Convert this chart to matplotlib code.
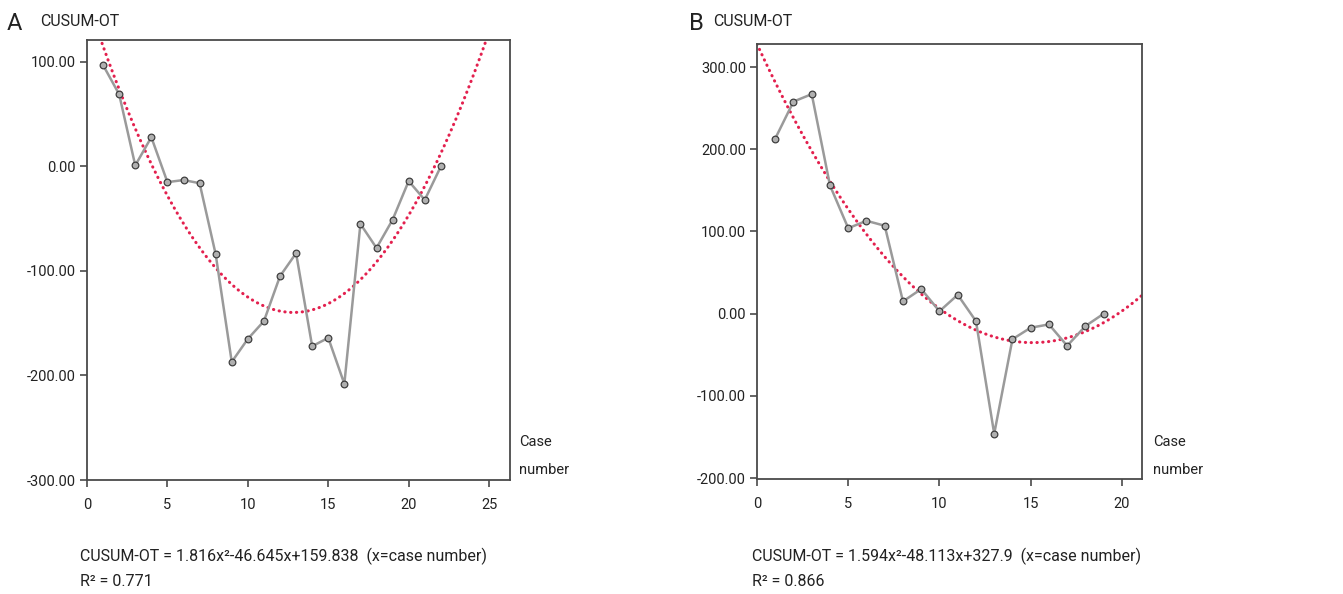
import numpy as np
import matplotlib
matplotlib.use("Agg")
import matplotlib.pyplot as plt

plt.rcParams['font.family'] = ['Roboto', 'DejaVu Sans']

# Panel A: CUSUM of operative time, 22 cases
cases_a = list(range(1, 23))
cusum_a = [97, 69, 1, 28, -15, -13, -16, -84, -187, -165, -148, -105, -83,
           -172, -164, -208, -55, -78, -51, -14, -32, 0]
coef_a = [1.816, -46.645, 159.838]      # quadratic fit a*x^2 + b*x + c
r2_a = 0.771

# Panel B: CUSUM of operative time, 19 cases
cases_b = list(range(1, 20))
cusum_b = [213, 258, 267, 156, 104, 113, 107, 15, 30, 3, 23, -9, -146,
           -31, -17, -13, -39, -15, 0]
coef_b = [1.594, -48.113, 327.9]
r2_b = 0.866

xticks_a = [0, 5, 10, 15, 20, 25]
yticks_a = [-300, -200, -100, 0, 100]
xticks_b = [0, 5, 10, 15, 20]
yticks_b = [-200, -100, 0, 100, 200, 300]

W, H = 1343, 594
fig = plt.figure(figsize=(W / 100, H / 100), dpi=100)

line_col = '#9a9a9a'
fit_col = '#e3204e'
spine_col = '#4a4a4a'
fs_tick = 10.5
fs_text = 11.5


def panel(rect, x, y, coef, xlim, ylim, xt, yt):
    ax = fig.add_axes(rect)
    ax.plot(x, y, color=line_col, lw=1.8, zorder=3,
            marker='o', ms=4.8, mfc='#b0b0b0', mec='#3f3f3f', mew=0.9)
    xs = np.linspace(xlim[0], xlim[1], 600)
    ax.plot(xs, np.polyval(coef, xs), color=fit_col, lw=2.2,
            ls=(0, (0.1, 1.8)), dash_capstyle='round', zorder=2)
    ax.set_xlim(*xlim)
    ax.set_ylim(*ylim)
    ax.set_xticks(xt)
    ax.set_yticks(yt)
    ax.set_yticklabels([f'{v:.2f}' for v in yt])
    for s in ax.spines.values():
        s.set_color(spine_col)
        s.set_linewidth(1.3)
    ax.tick_params(axis='both', direction='out', length=5, width=1.2,
                   color=spine_col, labelsize=fs_tick, labelcolor='#222222')
    ax.tick_params(axis='x', pad=8)
    ax.tick_params(axis='y', pad=3)
    return ax


panel([87 / W, 1 - 480 / H, 423 / W, 440 / H], cases_a, cusum_a, coef_a,
      (0, 26.3), (-300, 121), xticks_a, yticks_a)
panel([757 / W, 1 - 479 / H, 385 / W, 435 / H], cases_b, cusum_b, coef_b,
      (0, 21.1), (-201, 328), xticks_b, yticks_b)


def ftext(px, py, s, **kw):
    fig.text(px / W, 1 - py / H, s, color='#222222', **kw)


# panel letters and y-axis titles
ftext(7, 23, 'A', fontsize=17, va='center', ha='left')
ftext(40, 21, 'CUSUM-OT', fontsize=fs_text, va='center', ha='left')
ftext(689, 23, 'B', fontsize=17, va='center', ha='left')
ftext(713, 21, 'CUSUM-OT', fontsize=fs_text, va='center', ha='left')

# x-axis titles
for px in (519, 1153):
    ftext(px, 442, 'Case', fontsize=fs_tick, va='center', ha='left')
    ftext(px, 470, 'number', fontsize=fs_tick, va='center', ha='left')


def eq(coef):
    a, b, c = coef
    return f'CUSUM-OT = {a:g}x²{b:+g}x{c:+g}  (x=case number)'


ftext(80, 556, eq(coef_a), fontsize=fs_text, va='center', ha='left')
ftext(80, 582, f'R² = {r2_a:.3f}', fontsize=fs_text, va='center', ha='left')
ftext(752, 556, eq(coef_b), fontsize=fs_text, va='center', ha='left')
ftext(752, 582, f'R² = {r2_b:.3f}', fontsize=fs_text, va='center', ha='left')

fig.savefig('out.png', dpi=100)
